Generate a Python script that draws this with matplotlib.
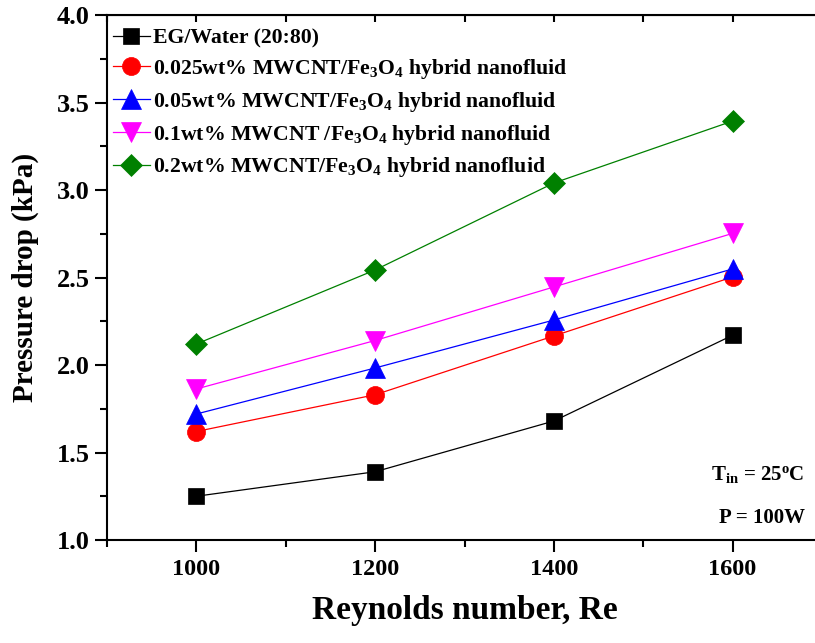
import numpy as np
import matplotlib
matplotlib.use('Agg')
import matplotlib.pyplot as plt
from matplotlib.ticker import MultipleLocator

plt.rcParams['font.family'] = 'Liberation Serif'
plt.rcParams['font.weight'] = 'bold'
plt.rcParams['mathtext.fontset'] = 'custom'
plt.rcParams['mathtext.rm'] = 'Liberation Serif:bold'
plt.rcParams['mathtext.bf'] = 'Liberation Serif:bold'
plt.rcParams['mathtext.it'] = 'Liberation Serif:bold:italic'

RE = [1000, 1200, 1400, 1600]
EG_WATER = [1.25, 1.39, 1.68, 2.17]
WT_0025 = [1.62, 1.83, 2.166, 2.503]
WT_005 = [1.72, 1.983, 2.257, 2.549]
WT_01 = [1.863, 2.14, 2.446, 2.752]
WT_02 = [2.12, 2.543, 3.04, 3.394]

LABELS = ['EG/Water (20:80)',
          '0.025wt% MWCNT/Fe$_3$O$_4$ hybrid nanofluid',
          '0.05wt% MWCNT/Fe$_3$O$_4$ hybrid nanofluid',
          '0.1wt% MWCNT /Fe$_3$O$_4$ hybrid nanofluid',
          '0.2wt% MWCNT/Fe$_3$O$_4$ hybrid nanofluid']
SERIES = [EG_WATER, WT_0025, WT_005, WT_01, WT_02]
COLORS = ['black', 'red', 'blue', 'magenta', '#008000']
MARKERS = ['s', 'o', '^', 'v', 'D']
MSIZES = [11.5, 13, 14, 14, 11]

fig = plt.figure(figsize=(8.15, 6.43), dpi=100)
# axes run past the right edge of the figure, so the right spine is cut off
ax = fig.add_axes([107/815, 1-540/643, 715/815, 525/643])

for y, lab, c, m, ms in zip(SERIES, LABELS, COLORS, MARKERS, MSIZES):
    ax.plot(RE, y, color=c, lw=0.9, marker=m, markersize=ms,
            markerfacecolor=c, markeredgecolor=c, markeredgewidth=0.5, label=lab)

ax.set_xlim(900, 1700)
ax.set_ylim(1.0, 4.0)
ax.xaxis.set_major_locator(MultipleLocator(200))
ax.xaxis.set_minor_locator(MultipleLocator(100))
ax.yaxis.set_major_locator(MultipleLocator(0.5))
ax.yaxis.set_minor_locator(MultipleLocator(0.25))
ax.set_xticks([1000, 1200, 1400, 1600])
ax.yaxis.set_major_formatter(matplotlib.ticker.FormatStrFormatter('%.1f'))

for s in ax.spines.values():
    s.set_linewidth(1.5)

ax.tick_params(which='major', direction='out', length=8.5, width=1.5)
ax.tick_params(which='minor', direction='out', length=5, width=1.5)
ax.tick_params(axis='x', labelsize=17.5, pad=5)
ax.tick_params(axis='y', labelsize=19, pad=4)

# inward ticks on the top spine
top = ax.secondary_xaxis('top')
top.xaxis.set_major_locator(MultipleLocator(200))
top.xaxis.set_minor_locator(MultipleLocator(100))
top.tick_params(which='both', direction='in', length=5, width=1.5, labeltop=False)

ax.set_xlabel('Reynolds number, Re', fontsize=24, fontweight='bold', labelpad=11)
ax.set_ylabel('Pressure drop (kPa)', fontsize=21, fontweight='bold', labelpad=13)

ax.legend(loc='upper left', frameon=False, fontsize=15.7, handlelength=1.7,
          handletextpad=0.15, labelspacing=0.4, borderaxespad=0.3,
          borderpad=0.3, bbox_to_anchor=(-0.01, 1.0))

ax.text(0.976, 0.124, 'T$_{\\rm in}$ = 25$^{\\rm o}$C', transform=ax.transAxes,
        ha='right', va='center', fontsize=15, fontweight='bold')
ax.text(0.976, 0.042, 'P = 100W', transform=ax.transAxes,
        ha='right', va='center', fontsize=15, fontweight='bold')

fig.savefig('out.png', dpi=100)
